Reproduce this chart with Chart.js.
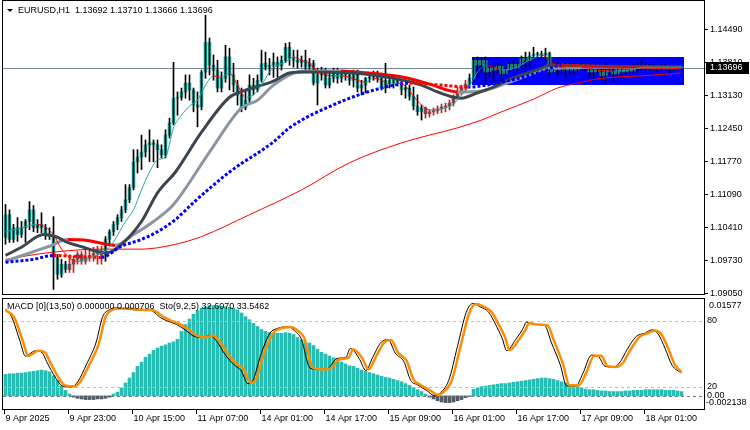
<!DOCTYPE html>
<html>
<head>
<meta charset="utf-8">
<script src="https://cdn.jsdelivr.net/npm/chart.js@4.4.1/dist/chart.umd.min.js"></script>
<style>
  body { margin: 0; background: #fff; width: 750px; height: 430px; overflow: hidden; position: relative; }
  canvas { position: absolute; left: 0; }
  #main { top: 0; }
  #sub { top: 296px; }
</style>
</head>
<body>
<canvas id="main" width="750" height="296"></canvas>
<canvas id="sub" width="750" height="134"></canvas>
<script>
// EURUSD H1, one entry per bar (bar 0 = 9 Apr 07:00)
const opens = [
  1.1020,1.1067,1.1016,1.1040,1.1026,1.1040,1.1053,1.1077,1.1040,1.1047,
  1.1040,1.1026,1.1022,1.0979,1.0944,1.0965,1.0954,1.0965,1.0975,1.0985,
  1.0971,1.0979,1.0983,1.0987,1.0989,1.0983,1.1016,1.1032,1.1047,1.1061,
  1.1077,1.1098,1.1123,1.1176,1.1186,1.1196,1.1211,1.1215,1.1211,1.1201,
  1.1190,1.1231,1.1256,1.1307,1.1309,1.1320,1.1338,1.1324,1.1293,1.1289,
  1.1361,1.1422,1.1375,1.1365,1.1328,1.1348,1.1392,1.1355,1.1334,1.1314,
  1.1287,1.1303,1.1334,1.1324,1.1344,1.1379,1.1371,1.1375,1.1381,1.1373,
  1.1385,1.1412,1.1389,1.1385,1.1381,1.1385,1.1371,1.1379,1.1338,1.1355,
  1.1365,1.1334,1.1348,1.1359,1.1348,1.1357,1.1355,1.1344,1.1359,1.1328,
  1.1334,1.1348,1.1350,1.1359,1.1348,1.1328,1.1344,1.1338,1.1344,1.1338,
  1.1324,1.1328,1.1311,1.1291,1.1279,1.1287,1.1275,1.1279,1.1281,1.1285,
  1.1289,1.1291,1.1297,1.1309,1.1320,1.1328,1.1336,1.1348,1.1385,1.1375,
  1.1385,1.1361,1.1369,1.1365,1.1373,1.1357,1.1365,1.1377,1.1369,1.1377,
  1.1389,1.1385,1.1394,1.1398,1.1397,1.1396,1.1400,1.1361,1.1373,1.1365,
  1.1371,1.1365,1.1375,1.1365,1.1373,1.1371,1.1369,1.1361,1.1365,1.1361,
  1.1353,1.1365,1.1361,1.1357,1.1367,1.1361,1.1369,1.1363,1.1373,1.1369,
  1.1375,1.1371,1.1373,1.1369,1.1373,1.1369,1.1373,1.1367,1.1371,1.13692
];
const highs = [
  1.1088,1.1077,1.1047,1.1061,1.1053,1.1057,1.1094,1.1086,1.1057,1.1071,
  1.1047,1.1040,1.1063,1.0985,1.0975,1.0971,1.0981,1.0981,1.0991,1.0991,
  1.0996,1.0996,1.1000,1.1002,1.1002,1.1022,1.1036,1.1053,1.1067,1.1084,
  1.1129,1.1129,1.1201,1.1201,1.1231,1.1221,1.1242,1.1221,1.1221,1.1211,
  1.1242,1.1266,1.1381,1.1320,1.1328,1.1355,1.1355,1.1328,1.1320,1.1365,
  1.1478,1.1431,1.1396,1.1385,1.1361,1.1416,1.1410,1.1379,1.1344,1.1328,
  1.1324,1.1355,1.1348,1.1355,1.1406,1.1402,1.1389,1.1400,1.1392,1.1394,
  1.1420,1.1422,1.1406,1.1406,1.1394,1.1406,1.1389,1.1385,1.1369,1.1371,
  1.1369,1.1361,1.1369,1.1369,1.1365,1.1363,1.1363,1.1365,1.1365,1.1344,
  1.1350,1.1357,1.1363,1.1363,1.1359,1.1379,1.1353,1.1350,1.1348,1.1344,
  1.1334,1.1334,1.1330,1.1314,1.1293,1.1289,1.1283,1.1287,1.1291,1.1295,
  1.1297,1.1303,1.1314,1.1330,1.1334,1.1344,1.1357,1.1389,1.1392,1.1389,
  1.1392,1.1375,1.1379,1.1379,1.1377,1.1369,1.1381,1.1385,1.1381,1.1394,
  1.1402,1.1402,1.1412,1.1402,1.1404,1.1410,1.1402,1.1381,1.1385,1.1377,
  1.1379,1.1379,1.1379,1.1377,1.1379,1.1375,1.1375,1.1373,1.1369,1.1375,
  1.1379,1.1373,1.1375,1.1371,1.1375,1.1373,1.1373,1.1377,1.1379,1.1385,
  1.1379,1.1377,1.1377,1.1375,1.1377,1.1377,1.1375,1.1375,1.1375,1.13710
];
const lows = [
  1.1006,1.1010,1.1010,1.1012,1.1020,1.1010,1.1036,1.1032,1.1030,1.1030,
  1.1016,1.1016,1.0913,1.0934,1.0938,1.0948,1.0948,1.0948,1.0965,1.0965,
  1.0965,1.0971,1.0971,1.0965,1.0965,1.0971,1.1004,1.1024,1.1036,1.1053,
  1.1071,1.1092,1.1118,1.1153,1.1160,1.1186,1.1176,1.1176,1.1164,1.1184,
  1.1184,1.1225,1.1252,1.1272,1.1303,1.1307,1.1303,1.1279,1.1248,1.1283,
  1.1348,1.1355,1.1344,1.1320,1.1320,1.1340,1.1324,1.1320,1.1293,1.1279,
  1.1283,1.1297,1.1314,1.1320,1.1340,1.1365,1.1355,1.1350,1.1350,1.1365,
  1.1381,1.1375,1.1371,1.1369,1.1371,1.1365,1.1365,1.1334,1.1293,1.1344,
  1.1328,1.1328,1.1340,1.1338,1.1340,1.1344,1.1334,1.1330,1.1320,1.1314,
  1.1318,1.1340,1.1344,1.1340,1.1324,1.1318,1.1328,1.1328,1.1332,1.1314,
  1.1307,1.1303,1.1283,1.1272,1.1262,1.1266,1.1268,1.1272,1.1275,1.1277,
  1.1279,1.1283,1.1291,1.1307,1.1314,1.1320,1.1332,1.1340,1.1350,1.1361,
  1.1338,1.1350,1.1340,1.1355,1.1340,1.1353,1.1361,1.1365,1.1363,1.1369,
  1.1369,1.1373,1.1385,1.1392,1.1389,1.1385,1.1355,1.1359,1.1355,1.1361,
  1.1350,1.1357,1.1355,1.1361,1.1365,1.1365,1.1350,1.1344,1.1357,1.1344,
  1.1338,1.1355,1.1340,1.1355,1.1348,1.1357,1.1361,1.1361,1.1359,1.1365,
  1.1365,1.1365,1.1363,1.1361,1.1365,1.1365,1.1359,1.1363,1.1365,1.13666
];
const closes = [
  1.1067,1.1016,1.1040,1.1026,1.1040,1.1053,1.1077,1.1040,1.1047,1.1040,
  1.1026,1.1022,1.0979,1.0944,1.0965,1.0954,1.0965,1.0975,1.0985,1.0971,
  1.0979,1.0983,1.0987,1.0989,1.0983,1.1016,1.1032,1.1047,1.1061,1.1077,
  1.1098,1.1123,1.1176,1.1186,1.1196,1.1211,1.1215,1.1211,1.1201,1.1190,
  1.1231,1.1256,1.1307,1.1309,1.1320,1.1338,1.1324,1.1293,1.1289,1.1361,
  1.1422,1.1375,1.1365,1.1328,1.1348,1.1392,1.1355,1.1334,1.1314,1.1287,
  1.1303,1.1334,1.1324,1.1344,1.1379,1.1371,1.1375,1.1381,1.1373,1.1385,
  1.1412,1.1389,1.1385,1.1381,1.1385,1.1371,1.1379,1.1338,1.1355,1.1365,
  1.1334,1.1348,1.1359,1.1348,1.1357,1.1355,1.1344,1.1359,1.1328,1.1334,
  1.1348,1.1350,1.1359,1.1348,1.1328,1.1344,1.1338,1.1344,1.1338,1.1324,
  1.1328,1.1311,1.1291,1.1279,1.1287,1.1275,1.1279,1.1281,1.1285,1.1289,
  1.1291,1.1297,1.1309,1.1320,1.1328,1.1336,1.1348,1.1385,1.1375,1.1385,
  1.1361,1.1369,1.1365,1.1373,1.1357,1.1365,1.1377,1.1369,1.1377,1.1389,
  1.1385,1.1394,1.1398,1.1397,1.1396,1.1400,1.1361,1.1373,1.1365,1.1371,
  1.1365,1.1375,1.1365,1.1373,1.1371,1.1369,1.1361,1.1365,1.1361,1.1353,
  1.1365,1.1361,1.1357,1.1367,1.1361,1.1369,1.1363,1.1373,1.1369,1.1375,
  1.1371,1.1373,1.1369,1.1373,1.1369,1.1373,1.1367,1.1371,1.1369,1.13696
];
// bars painted grey by the trend filter
const grayRanges = [[16, 24], [105, 115]];

// moving averages, read as [bar, price]
const fastLine = [[0,1.1032],[4,1.1040],[8,1.1047],[12,1.1026],[14,1.0996],[18,1.0971],[22,1.0981],[26,1.1000],
  [30,1.1053],[32,1.1077],[34,1.1118],[36,1.1155],[38,1.1180],[40,1.1186],[42,1.1246],[44,1.1272],[46,1.1291],
  [48,1.1303],[50,1.1334],[52,1.1353],[54,1.1350],[56,1.1359],[58,1.1334],[60,1.1309],[62,1.1314],[64,1.1334],
  [66,1.1361],[68,1.1375],[70,1.1381],[72,1.1392],[74,1.1385],[76,1.1379],[78,1.1361],[80,1.1355],[82,1.1353],
  [84,1.1353],[86,1.1350],[88,1.1344],[90,1.1340],[92,1.1348],[94,1.1344],[96,1.1336],[98,1.1338],[100,1.1332],
  [102,1.1311],[104,1.1293],[106,1.1283],[108,1.1284],[110,1.1287],[112,1.1295],[114,1.1314],[116,1.1332],
  [118,1.1361],[120,1.1375],[122,1.1371],[124,1.1365],[126,1.1367],[128,1.1371],[130,1.1381],[132,1.1389],
  [134,1.1396],[136,1.1385],[138,1.1373],[140,1.1369],[144,1.1371],[148,1.1365],[152,1.1363],[156,1.1365],
  [160,1.1371],[164,1.1371],[169,1.1371]];
const darkLine = [[0,1.0983],[4,1.1000],[9.5,1.1026],[12.5,1.1022],[15.5,1.1010],[19.5,1.1000],[23,1.0991],
  [25.5,1.0989],[29,1.1006],[34,1.1053],[38,1.1112],[42.5,1.1155],[49,1.1237],[56,1.1309],[59.5,1.1322],
  [67,1.1342],[71,1.1359],[75.5,1.1361],[87,1.1359],[99.5,1.1344],[104,1.1334],[108,1.1320],[112,1.1309],
  [114,1.1307],[118,1.1318],[122,1.1330],[125.5,1.1344],[130.5,1.1359],[134,1.1369],[136,1.1375],[149,1.1373],
  [169,1.1371]];
const grayLine = [[0,1.0971],[7,1.0991],[11,1.1002],[15.5,1.1016],[20.5,1.1014],[24,1.1008],[27.5,1.1004],
  [32,1.1026],[37,1.1053],[42,1.1088],[51,1.1196],[59,1.1287],[63,1.1303],[67,1.1334],[74.5,1.1363],[84,1.1363],
  [87.5,1.1361],[99.5,1.1350],[106,1.1336],[113,1.1320],[119,1.1322],[124,1.1334],[131,1.1355],[136,1.1369],
  [149,1.1371],[169,1.1371]];
const dotLine = [[0,1.0969],[7,1.0975],[12,1.0983],[17.5,1.0981],[24,1.0979],[29,1.1002],[34,1.1016],[38,1.1032],
  [42.5,1.1057],[47,1.1092],[56,1.1155],[67,1.1217],[71,1.1246],[83,1.1297],[94,1.1328],[101,1.1338],[104,1.1337],
  [109,1.1334],[115.5,1.1330],[124,1.1340],[134,1.1361],[139,1.1375],[154,1.1371],[169,1.1369]];
const slowLine = [[0,1.0975],[11,1.0989],[24,1.0996],[34,1.0996],[42.5,1.1006],[49,1.1022],[61,1.1067],
  [74,1.1118],[86,1.1174],[99,1.1215],[106,1.1231],[113,1.1246],[119,1.1262],[124,1.1279],[132,1.1305],
  [138,1.1328],[143,1.1338],[149,1.1348],[159,1.1353],[169,1.1359]];

// blue rectangle object
const boxFrom = 116.5, boxTo = 169.5, boxHigh = 1.13919, boxLow = 1.13342;

// MACD histogram, one per bar
const macdHist = [
  0.0035,0.0036,0.0036,0.0037,0.0037,0.0038,0.0039,0.0040,0.0041,0.0042,0.0041,0.0039,
  0.0033,0.0025,0.0016,0.0009,0.0003,
  -0.0002,-0.0004,-0.0005,-0.0006,-0.0006,-0.0006,-0.0005,-0.0005,-0.0004,-0.0002,
  0.0003,0.0006,0.0013,0.0021,0.0029,0.0038,0.0048,0.0055,0.0063,
  0.0068,0.0074,0.0078,0.0081,0.0083,0.0086,0.0088,0.0092,
  0.0105,0.0116,0.0125,0.0133,0.0139,
  0.0143,0.0145,0.0147,0.0147,0.0146,0.0146,0.0145,0.0144,0.0143,0.0140,
  0.0135,0.0129,0.0124,0.0118,0.0113,0.0108,0.0105,0.0103,
  0.0102,0.0102,0.0102,0.0103,0.0102,0.0100,0.0095,0.0091,0.0087,0.0086,0.0082,
  0.0076,0.0071,0.0068,0.0065,0.0062,0.0059,0.0055,0.0052,0.0049,0.0048,0.0045,
  0.0042,0.0040,0.0038,0.0036,0.0034,0.0032,0.0030,0.0029,0.0027,0.0025,0.0023,
  0.0020,0.0017,0.0014,0.0010,0.0007,0.0003,
  -0.0002,-0.0005,-0.0008,-0.0010,-0.0011,-0.0011,-0.0010,-0.0008,-0.0006,-0.0003,-0.0001,
  0.0011,0.0013,0.0015,0.0016,0.0017,
  0.0018,0.0019,0.0020,0.0020,0.0021,0.0022,0.0023,0.0024,0.0025,0.0026,0.0027,0.0028,0.0029,0.0029,0.0028,
  0.0027,0.0025,0.0023,0.0021,0.0019,0.0017,0.0015,0.0013,
  0.0011,0.0010,0.0010,0.0009,0.0008,0.0008,0.0007,0.0007,0.0007,0.0007,0.0008,
  0.0008,0.0009,0.0009,0.0009,0.0010,0.0010,0.0010,0.0010,0.0010,0.0009,0.0009,0.0009,0.0008,0.0007
];
// Stochastic (9,2,5), [bar, value]
const stochSignal = [[0,89.9],[2.1,83.7],[4.3,62.2],[5.7,48.3],[6.6,49.8],[8.2,53],[9.9,51.4],[11,43.7],
  [13.3,28.3],[14.9,21.5],[17.2,20.6],[18.8,25.3],[21,40.6],[23.3,59],[25,83.7],[26.6,89.9],[28.3,91.4],
  [31.1,91.4],[33.3,90.4],[36.7,89.9],[39.5,83.7],[41.2,80.6],[43.4,77.5],[45.6,72.9],[47.9,66.8],[50.1,65.2],
  [51.8,66.8],[53.4,62.2],[55.7,49.8],[57.9,40.6],[59.6,36],[61.3,23.7],[62.4,25.3],[64.6,49.8],[66.8,68.3],
  [68.5,72.9],[71.3,74.5],[73,71.4],[74.6,65.2],[76.9,37.5],[79.1,36],[81.3,36.9],[83.6,45.2],[85.8,46.8],
  [86.9,54.4],[89.1,46.8],[90.8,36],[92.5,46.8],[94.7,60.6],[96.4,62.7],[98.1,51.4],[100.3,43.7],[102,26.8],
  [103.7,22.1],[105.9,17.5],[108.1,12.9],[109.2,14.5],[111.5,25.3],[113.7,56],[115.9,86.8],[117.6,95.4],
  [119.3,93.5],[121.5,88.3],[123.2,77.5],[124.9,65.2],[126,53.5],[128.2,62.2],[129.9,71.4],[131,78.2],
  [132.7,76.9],[135.5,76],[137.1,62.2],[139.4,40.6],[141,21.5],[143.3,21.5],[145,31.4],[147.2,48.3],
  [148.9,48.3],[150.5,39.1],[152.8,38.2],[154.4,42.2],[156.1,53],[158.4,65.2],[160.6,68.9],[162.3,71.4],
  [163.9,68.3],[165.6,56],[167.3,40.6],[169,33.5]];
const stochMain = [[0,91],[1.5,84],[3.6,62],[5,48],[6,50],[7.5,53],[9.2,51],[10.3,43],[12.6,28],[14.2,21],
  [16.5,20],[18.1,25],[20.3,41],[22.6,60],[24.3,84],[25.9,90],[27.6,92],[30.4,91],[32.6,90],[36,90],[38.8,83],
  [40.5,80],[42.7,77],[44.9,72],[47.2,66],[49.4,65],[51.1,67],[52.7,62],[55,49],[57.2,40],[58.9,35],[60.6,23],
  [61.7,25],[63.9,50],[66.1,69],[67.8,73],[70.6,75],[72.3,71],[73.9,64],[76.2,37],[78.4,36],[80.6,37],[82.9,46],
  [85.1,47],[86.2,55],[88.4,46],[90.1,35],[91.8,47],[94,61],[95.7,63],[97.4,51],[99.6,43],[101.3,26],[103,22],
  [105.2,17],[107.4,12],[108.5,14],[110.8,26],[113,57],[115.2,88],[116.9,96],[118.6,93],[120.8,88],[122.5,77],
  [124.2,64],[125.3,53],[127.5,63],[129.2,72],[130.3,79],[132,77],[134.8,76],[136.4,61],[138.7,40],[140.3,21],
  [142.6,21],[144.3,32],[146.5,49],[148.2,48],[149.8,39],[152.1,38],[153.7,43],[155.4,54],[157.7,66],[159.9,69],
  [161.6,72],[163.2,68],[164.9,55],[166.6,40],[169,32.6]];

// axis labels
const priceTicks = [1.14490, 1.13810, 1.13130, 1.12450, 1.11770, 1.11090, 1.10410, 1.09730, 1.09050];
const timeTickBars = [0, 16, 32, 48, 64, 80, 96, 112, 128, 144, 160];
const timeTickText = ['9 Apr 2025', '9 Apr 23:00', '10 Apr 15:00', '11 Apr 07:00', '14 Apr 01:00', '14 Apr 17:00',
  '15 Apr 09:00', '16 Apr 01:00', '16 Apr 17:00', '17 Apr 09:00', '18 Apr 01:00'];
const macdMin = -0.002138, macdMax = 0.01577;

const FONT = '9px "Liberation Sans", Arial, sans-serif';
const TEAL = '#26BEB4';
const X_MIN = -0.625, X_MAX = 174.625;

function isGray(i) {
  return grayRanges.some(r => i >= r[0] && i <= r[1]);
}

function pts(list) {
  return list.map(p => ({ x: p[0], y: p[1] }));
}

function lineSet(data, color, width, extra) {
  return Object.assign({
    type: 'line', data: pts(data), borderColor: color, borderWidth: width,
    pointRadius: 0, fill: false, cubicInterpolationMode: 'monotone'
  }, extra || {});
}

const falling = (up, down) => ({ borderColor: ctx => ctx.p1.parsed.y < ctx.p0.parsed.y ? down : up });

const mainDecor = {
  id: 'mainDecor',
  beforeDatasetsDraw(chart) {
    const { ctx, chartArea: a, scales: { x, y } } = chart;
    ctx.save();
    const py = Math.round(y.getPixelForValue(closes[closes.length - 1])) + 0.5;
    ctx.strokeStyle = '#778899';
    ctx.lineWidth = 1;
    ctx.beginPath(); ctx.moveTo(a.left, py); ctx.lineTo(a.right + 3, py); ctx.stroke();

    const x1 = Math.round(x.getPixelForValue(boxFrom)), x2 = Math.round(x.getPixelForValue(boxTo));
    const y1 = Math.round(y.getPixelForValue(boxHigh)), y2 = Math.round(y.getPixelForValue(boxLow));
    ctx.fillStyle = '#0000FF';
    ctx.fillRect(x1, y1, x2 - x1, y2 - y1);
    ctx.restore();
  },
  afterDraw(chart) {
    const { ctx, chartArea: a, scales: { y } } = chart;
    ctx.save();
    ctx.strokeStyle = '#000';
    ctx.lineWidth = 1;
    ctx.strokeRect(a.left - 0.5, a.top - 0.5, a.right - a.left + 1, a.bottom - a.top + 1);

    ctx.font = FONT;
    ctx.fillStyle = '#000';
    ctx.textBaseline = 'middle';
    priceTicks.forEach(p => {
      const py = Math.round(y.getPixelForValue(p)) + 0.5;
      ctx.beginPath(); ctx.moveTo(a.right + 1, py); ctx.lineTo(a.right + 4, py); ctx.stroke();
      ctx.fillText(p.toFixed(5), a.right + 6, py);
    });

    // last price tag
    const last = closes[closes.length - 1];
    const ly = Math.round(y.getPixelForValue(last));
    ctx.fillStyle = '#000';
    ctx.fillRect(a.right + 2, ly - 6, 43, 12);
    ctx.fillStyle = '#fff';
    ctx.fillText(last.toFixed(5), a.right + 6, ly);

    // title
    ctx.fillStyle = '#000';
    ctx.beginPath(); ctx.moveTo(7, 9); ctx.lineTo(13, 9); ctx.lineTo(10, 12); ctx.closePath(); ctx.fill();
    const n = closes.length - 1;
    ctx.fillText('EURUSD,H1  ' + [opens[n], highs[n], lows[n], closes[n]].map(v => v.toFixed(5)).join(' '), 18, 11);
    ctx.restore();
  }
};

const subDecor = {
  id: 'subDecor',
  afterDatasetDraw(chart, args) {
    if (args.index !== 0) return;
    const { ctx, chartArea: a, scales } = chart;
    ctx.save();
    ctx.lineWidth = 1;
    ctx.setLineDash([3, 3]);
    ctx.strokeStyle = '#C0C0C0';
    [80, 20].forEach(v => {
      const py = Math.round(scales.yS.getPixelForValue(v)) + 0.5;
      ctx.beginPath(); ctx.moveTo(a.left, py); ctx.lineTo(a.right, py); ctx.stroke();
    });
    ctx.strokeStyle = '#6E7882';
    const zy = Math.round(scales.yM.getPixelForValue(0)) + 0.5;
    ctx.beginPath(); ctx.moveTo(a.left, zy); ctx.lineTo(a.right, zy); ctx.stroke();
    ctx.restore();
  },
  afterDraw(chart) {
    const { ctx, chartArea: a, scales } = chart;
    ctx.save();
    ctx.strokeStyle = '#000';
    ctx.lineWidth = 1;
    ctx.strokeRect(a.left - 0.5, a.top - 0.5, a.right - a.left + 1, a.bottom - a.top + 1);

    ctx.font = FONT;
    ctx.fillStyle = '#000';
    ctx.textBaseline = 'middle';
    ctx.fillText(macdMax.toFixed(5), a.right + 5, scales.yM.getPixelForValue(macdMax) + 7);
    ctx.fillText('80', a.right + 3, scales.yS.getPixelForValue(80));
    ctx.fillText('20', a.right + 3, scales.yS.getPixelForValue(20));
    ctx.fillText('0.00', a.right + 3, scales.yM.getPixelForValue(0));
    ctx.fillText(macdMin.toFixed(6), a.right + 2, scales.yM.getPixelForValue(macdMin) - 6);

    ctx.fillText('MACD [0](13,50) 0.000000 0.000706  Sto(9,2,5) 32.6070 33.5462', 7, a.top + 8);

    // time axis
    timeTickBars.forEach((b, k) => {
      const tx = Math.round(scales.x.getPixelForValue(b)) - 1.5;
      ctx.beginPath(); ctx.moveTo(tx, a.bottom + 1); ctx.lineTo(tx, a.bottom + 5); ctx.stroke();
      ctx.fillText(timeTickText[k], tx + 1, a.bottom + 10);
    });
    ctx.restore();
  }
};

new Chart(document.getElementById('main').getContext('2d'), {
  type: 'bar',
  data: {
    datasets: [
      lineSet(fastLine, '#20A89E', 1, { order: 2, segment: falling('#20A89E', '#FF0000') }),
      lineSet(dotLine, '#0000FF', 3, { order: 3, borderDash: [3, 2], borderCapStyle: 'butt',
        segment: falling('#0000FF', '#FF0000') }),
      lineSet(darkLine, '#3C4650', 3, { order: 4 }),
      lineSet(grayLine, '#8C96A0', 3, { order: 5, segment: falling('#8C96A0', '#FF0000') }),
      lineSet(slowLine, '#FF0000', 1, { order: 6 }),
      // wicks sit on top of the bodies, as in the terminal
      {
        data: closes.map((c, i) => ({ x: i, y: [lows[i], highs[i]] })),
        backgroundColor: closes.map((c, i) => isGray(i) ? '#C81E1E' : '#000'),
        barThickness: 1, grouped: false, borderWidth: 0, order: 19
      },
      {
        data: closes.map((c, i) => ({ x: i, y: [opens[i], c] })),
        backgroundColor: closes.map((c, i) => isGray(i) ? '#646470' : TEAL),
        barThickness: 3, minBarLength: 1, grouped: false, borderWidth: 0, order: 20
      }
    ]
  },
  options: {
    responsive: false,
    animation: false,
    layout: { padding: { left: 3, top: 1, right: 46, bottom: 2 } },
    plugins: { legend: { display: false }, tooltip: { enabled: false } },
    scales: {
      x: { type: 'linear', min: X_MIN, max: X_MAX, offset: false, display: false },
      y: { min: 1.09036, max: 1.15073, display: false }
    }
  },
  plugins: [mainDecor]
});

new Chart(document.getElementById('sub').getContext('2d'), {
  type: 'bar',
  data: {
    datasets: [
      {
        data: macdHist.map((v, i) => ({ x: i, y: v })),
        backgroundColor: macdHist.map(v => v >= 0 ? TEAL : '#505A64'),
        barThickness: 3, grouped: false, borderWidth: 0, yAxisID: 'yM', order: 3
      },
      lineSet(stochMain, '#000000', 1, { yAxisID: 'yS', order: 2 }),
      lineSet(stochSignal, '#FF8C00', 2.5, { yAxisID: 'yS', order: 1 })
    ]
  },
  options: {
    responsive: false,
    animation: false,
    layout: { padding: { left: 3, top: 3, right: 46, bottom: 21 } },
    plugins: { legend: { display: false }, tooltip: { enabled: false } },
    scales: {
      x: { type: 'linear', min: X_MIN, max: X_MAX, offset: false, display: false },
      yM: { min: macdMin, max: macdMax, display: false },
      yS: { min: 0, max: 100, display: false }
    }
  },
  plugins: [subDecor]
});
</script>
</body>
</html>
